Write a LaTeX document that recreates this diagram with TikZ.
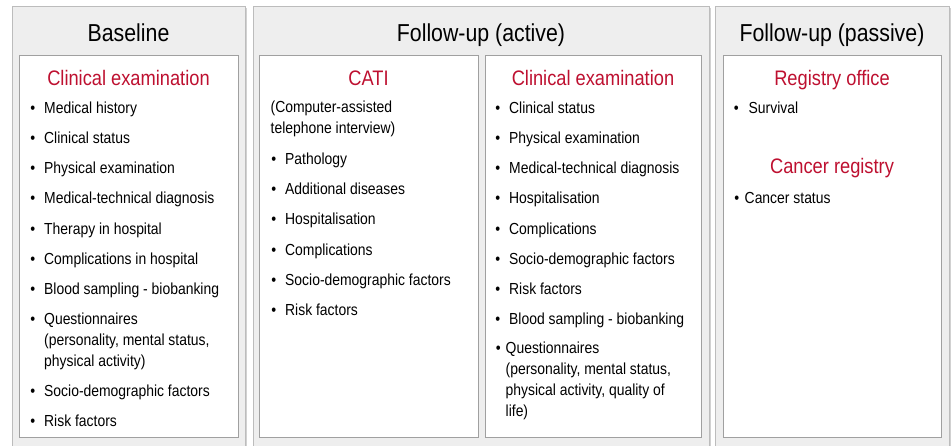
\documentclass[tikz,border=0pt]{standalone}
\usepackage{fontspec}
\setmainfont{Liberation Sans}[FakeStretch=0.87]
\usepackage{xcolor}

\definecolor{headred}{RGB}{190,16,48}
\definecolor{panelgray}{RGB}{238,238,238}
\definecolor{panelline}{RGB}{188,188,188}
\definecolor{boxline}{RGB}{160,160,160}

\tikzset{
  panel/.style={draw=panelline, fill=panelgray, line width=1pt},
  inbox/.style={draw=boxline, fill=white, line width=0.8pt},
  boxshadow/.style={fill=black!40},
  coltitle/.style={anchor=base, inner sep=0pt, font=\fontsize{24.5}{29}\selectfont},
  heading/.style={anchor=base, inner sep=0pt, text=headred, font=\fontsize{21}{25}\selectfont},
  item/.style={anchor=base west, inner sep=0pt, font=\fontsize{16}{21}\selectfont},
}
% bullet hung to the left of an item
\newcommand{\bul}[1][9pt]{\llap{\textbullet\hspace{#1}}}
% lines of one item, first baseline on top
\newcommand{\lines}[1]{\begin{tabular}[t]{@{}l@{}}#1\end{tabular}}

\begin{document}
\begin{tikzpicture}[x=1pt, y=-1pt]
\useasboundingbox (0,0) rectangle (952,446);
\clip (0,0) rectangle (952,446);

% grey panels
\fill[black!18] (13.5,8.5) rectangle (246.5,470);
\draw[panel] (12,7) rectangle (245,470);
\fill[black!18] (254.5,8.5) rectangle (710.5,470);
\draw[panel] (253,7) rectangle (709,470);
\fill[black!18] (716.5,8.5) rectangle (950.5,470);
\draw[panel] (715,7) rectangle (949,470);

\node[coltitle] (tbase) at (128.5,42) {Baseline};
\node[coltitle] (tact)  at (481,42) {Follow-up (active)};
\node[coltitle] (tpas)  at (832,42) {Follow-up (passive)};

% white boxes
\foreach \xa/\xb in {19/238, 259/478, 485/701, 723/941} {
  \fill[boxshadow] (\xa+1.2,56.2) rectangle (\xb+1.2,438.2);
  \draw[inbox] (\xa,55) rectangle (\xb,437);
}

% baseline
\node[heading] (hbase) at (128.5,86) {Clinical examination};
\foreach \txt [count=\i from 0] in {Medical history, Clinical status,
    Physical examination, Medical-technical diagnosis, Therapy in hospital,
    Complications in hospital, Blood sampling - biobanking}
  \node[item] (b\i) at (44,114+30*\i) {\bul\txt};
\node[item] (b7) at (44,324)
  {\bul\lines{Questionnaires\\(personality, mental status,\\physical activity)}};
\node[item] (b8) at (44,396) {\bul Socio-demographic factors};
\node[item] (b9) at (44,426) {\bul Risk factors};

% follow-up, telephone
\node[heading] (hcati) at (368.5,86) {CATI};
\node[item] (cati) at (270.5,113) {\lines{(Computer-assisted\\telephone interview)}};
\foreach \txt [count=\i from 0] in {Pathology, Additional diseases,
    Hospitalisation, Complications, Socio-demographic factors, Risk factors}
  \node[item] (c\i) at (285,165+30*\i) {\bul\txt};

% follow-up, examination
\node[heading] (hact) at (593,86) {Clinical examination};
\foreach \txt [count=\i from 0] in {Clinical status, Physical examination,
    Medical-technical diagnosis, Hospitalisation, Complications,
    Socio-demographic factors, Risk factors, Blood sampling - biobanking}
  \node[item] (a\i) at (509,114+30*\i) {\bul\txt};
\node[item] (a8) at (505.5,353)
  {\bul[5pt]\lines{Questionnaires\\(personality, mental status,\\physical activity, quality of\\life)}};

% passive follow-up
\node[heading] (hreg) at (832,86) {Registry office};
\node[item] (p0) at (748.5,114) {\bul[10pt]Survival};
\node[heading] (hcan) at (832,173.5) {Cancer registry};
\node[item] (p1) at (744.5,203.5) {\bul[5.5pt]Cancer status};
\end{tikzpicture}
\end{document}
